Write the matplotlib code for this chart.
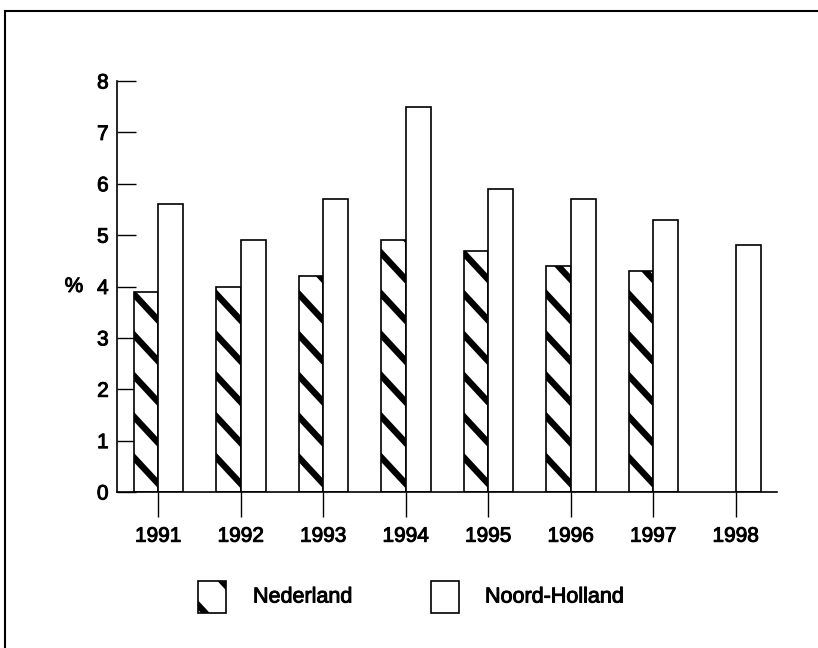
import numpy as np
import matplotlib.pyplot as plt
import matplotlib.patheffects as pe
from matplotlib.patches import Rectangle
from matplotlib.lines import Line2D

# data
YEARS = ['1991', '1992', '1993', '1994', '1995', '1996', '1997', '1998']
NEDERLAND = [3.9, 4.0, 4.2, 4.9, 4.7, 4.4, 4.3, np.nan]
NOORD_HOLLAND = [5.6, 4.9, 5.7, 7.5, 5.9, 5.7, 5.3, 4.8]

plt.rcParams['font.family'] = ['Liberation Sans', 'DejaVu Sans']

W, H = 818, 648
fig = plt.figure(figsize=(W / 100, H / 100), dpi=100)
ax = fig.add_axes([117 / W, 1 - 492 / H, (777 - 117) / W, (492 - 81) / H])

x = np.arange(len(YEARS))
bw = 0.3

ned_bars = ax.bar(x, NEDERLAND, width=-bw, align='edge', facecolor='white',
                  edgecolor='black', linewidth=1.2, zorder=2)
ax.bar(x, NOORD_HOLLAND, width=bw, align='edge', facecolor='white',
       edgecolor='black', linewidth=1.2, zorder=2)

# thick, widely spaced diagonal stripes for Nederland (clipped to each bar)
slope = -1.73      # data units
step = 0.795
start = 0.68
for rect in ned_bars:
    h = rect.get_height()
    if not np.isfinite(h):
        continue
    x0 = rect.get_x()
    x1 = x0 + rect.get_width()
    x0, x1 = min(x0, x1), max(x0, x1)
    k = -1
    while start + step * k < h + 1.0:
        y0 = start + step * k
        xs = np.array([x0 - 0.1, x1 + 0.1])
        ys = y0 + slope * (xs - x0)
        ln, = ax.plot(xs, ys, color='black', lw=4.6, solid_capstyle='butt', zorder=3)
        ln.set_clip_path(rect)
        k += 1

ax.set_xlim(-0.5, len(YEARS) - 0.5)
ax.set_ylim(0, 8)
ax.set_yticks(range(0, 9))
ax.set_xticks(x)
ax.set_xticklabels(YEARS)
for s in ['top', 'right']:
    ax.spines[s].set_visible(False)
ax.spines['left'].set_linewidth(1.2)
ax.spines['bottom'].set_linewidth(1.2)
ax.tick_params(axis='y', direction='in', length=14, width=1.0, labelsize=15, pad=6)
ax.tick_params(axis='x', direction='out', length=18, width=1.0, labelsize=15, pad=7)
ax.set_ylabel('%', rotation=0, fontsize=15, va='center', ha='center')
ax.yaxis.set_label_coords((74 - 117) / (777 - 117), 4 / 8)

# scanned original has heavier text
heavy = [pe.withStroke(linewidth=0.7, foreground='black')]
for t in ax.get_xticklabels() + ax.get_yticklabels() + [ax.yaxis.label]:
    t.set_path_effects(heavy)


def px(xp, yp):
    return xp / W, 1 - yp / H


# legend drawn by hand
for bx, label, tx in [(198, 'Nederland', 253), (431, 'Noord-Holland', 485)]:
    r = Rectangle(px(bx, 613), 28 / W, 32 / H, transform=fig.transFigure,
                  facecolor='white', edgecolor='black', linewidth=1.2)
    fig.add_artist(r)
    if label == 'Nederland':
        for cx, cy in [(219, 578), (198, 605)]:
            xs = np.array([cx - 20, cx + 20])
            ys = cy + 1.08 * (xs - cx)
            ln = Line2D(xs / W, 1 - ys / H, transform=fig.transFigure,
                        color='black', lw=4.6, solid_capstyle='butt')
            ln.set_clip_path(r)
            fig.add_artist(ln)
    fig.text(tx / W, 1 - 597 / H, label, fontsize=15.5, ha='left', va='center',
             path_effects=heavy)

# outer frame (top and left)
fig.add_artist(Line2D([5 / W, 1], [1 - 11 / H, 1 - 11 / H], transform=fig.transFigure,
                      color='black', lw=1.5))
fig.add_artist(Line2D([5 / W, 5 / W], [0, 1 - 11 / H], transform=fig.transFigure,
                      color='black', lw=1.5))

fig.savefig('out.png', dpi=100)
